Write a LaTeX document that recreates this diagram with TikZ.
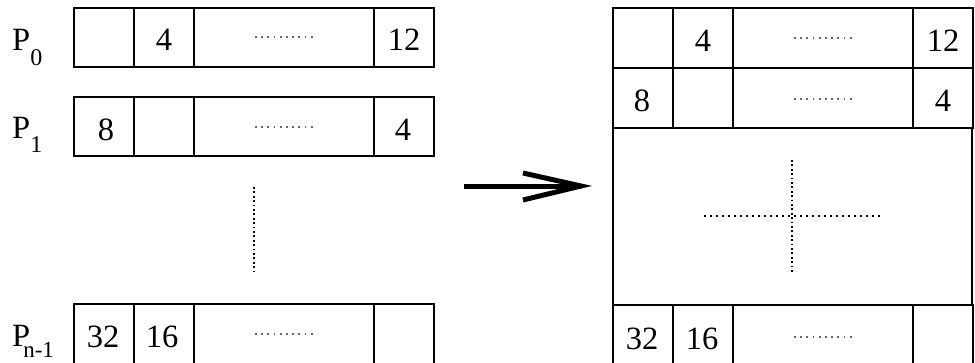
\documentclass[tikz,border=0pt]{standalone}
\usepackage{fontspec}
\setmainfont{Liberation Serif}
\begin{document}
\begin{tikzpicture}[x=1pt,y=-1pt,
  cell/.style={draw=black,line width=1.1pt},
  num/.style={anchor=base,inner sep=0pt,font=\fontsize{32.5}{32.5}\selectfont},
  plabel/.style={anchor=base west,inner sep=0pt,font=\fontsize{32.5}{32.5}\selectfont},
  fewdots/.style={draw=black!60,line width=1.5pt,dash pattern=on 1.8pt off 4.4pt},
  densedots/.style={draw=black,line width=1.3pt,dash pattern=on 1.8pt off 2.6pt},
  crossdots/.style={draw=black,line width=1.3pt,dash pattern=on 1.8pt off 4.2pt},
  bigarrow/.style={line width=5pt,miter limit=10}]
\useasboundingbox (0,0) rectangle (975,362);

% one row of four cells: left x, top y, bottom y, height of the dots
\newcommand{\cellrow}[4]{%
  \draw[cell] (#1,#2) rectangle (#1+360,#3);
  \draw[cell] (#1+60,#2) -- (#1+60,#3)
              (#1+120,#2) -- (#1+120,#3)
              (#1+300,#2) -- (#1+300,#3);
  \draw[fewdots] (#1+181,#4) -- (#1+240,#4);}

% ---- separate rows, one per process ----
\cellrow{74}{8}{67}{37}
\cellrow{74}{97}{156}{127}
\cellrow{74}{304}{366}{334}

\node[plabel] (p0) at (12,50) {P\raisebox{-15pt}{\fontsize{24}{24}\selectfont 0}};
\node[plabel] (p1) at (12,138) {P\raisebox{-14pt}{\fontsize{24}{24}\selectfont 1}};
\node[plabel] (pn) at (12,346) {P\kern-7pt\raisebox{-11pt}{\fontsize{23}{23}\selectfont n-1}};

\node[num] (a02) at (164,50) {4};
\node[num] (a04) at (404,50) {12};
\node[num] (a11) at (106,140) {8};
\node[num] (a14) at (403,140) {4};
\node[num] (an1) at (103,347) {32};
\node[num] (an2) at (162,347) {16};

\coordinate (vt) at (254,187);
\coordinate (vb) at (254,272);
\draw[densedots] (vt) -- (vb);

% ---- arrow ----
\coordinate (as) at (464,186);
\coordinate (at) at (581,186);
\coordinate (au) at (523,173);
\coordinate (al) at (523,200);
\draw[bigarrow] (as) -- (at);
\draw[bigarrow] (au) -- (at) -- (al);

% ---- gathered matrix ----
\cellrow{613}{8}{68}{38}
\cellrow{613}{68}{128}{99}
\draw[cell] (613,128) rectangle (972,305);
\cellrow{613}{305}{366}{337}

\node[num] (b02) at (703,51) {4};
\node[num] (b04) at (943,51) {12};
\node[num] (b11) at (642,111) {8};
\node[num] (b14) at (943,111) {4};
\node[num] (bn1) at (642,349) {32};
\node[num] (bn2) at (702,349) {16};

\coordinate (cl) at (704,216);
\coordinate (cr) at (880,216);
\coordinate (ct) at (792,160);
\coordinate (cb) at (792,274);
\draw[crossdots] (cl) -- (cr);
\draw[densedots] (ct) -- (cb);
\end{tikzpicture}
\end{document}
